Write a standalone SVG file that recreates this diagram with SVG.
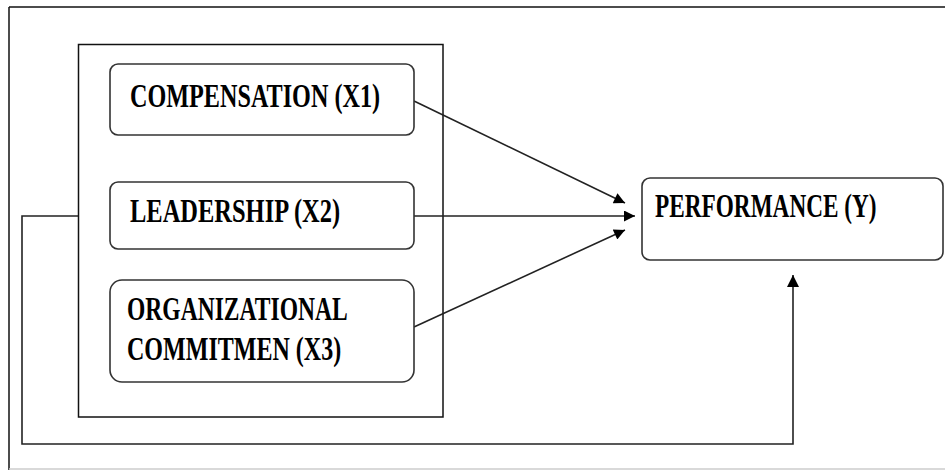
<svg xmlns="http://www.w3.org/2000/svg" width="945" height="470" viewBox="0 0 945 470">
<defs>
<marker id="ah" viewBox="0 0 10 10" refX="10" refY="5" markerWidth="13" markerHeight="11" markerUnits="userSpaceOnUse" orient="auto">
<path d="M0,0 L10,5 L0,10 Z" fill="#000"/>
</marker>
<marker id="ahv" viewBox="0 0 10 10" refX="10" refY="5" markerWidth="15" markerHeight="12" markerUnits="userSpaceOnUse" orient="auto">
<path d="M0,0 L10,5 L0,10 Z" fill="#000"/>
</marker>
</defs>
<style>
.frame{fill:none;stroke:#111;stroke-width:1.5}
.node{fill:#fff;stroke:#333;stroke-width:1.6}
.conn{fill:none;stroke:#222;stroke-width:1.6}
.lbl{font-family:"Liberation Serif","Times New Roman",serif;font-weight:bold;font-size:33px;fill:#000}
</style>
<rect width="945" height="470" fill="#fff"/>
<g id="frame">
<line x1="9" y1="7" x2="945" y2="7" class="frame"/>
<line x1="9" y1="7" x2="9" y2="470" class="frame"/>
<line x1="9" y1="469" x2="945" y2="469" stroke="#ccc" stroke-width="1.5"/>
</g>
<g id="group-box">
<rect x="78.5" y="44.5" width="364.5" height="372.5" class="frame"/>
</g>
<g id="connectors">
<line x1="414" y1="101" x2="625" y2="203" class="conn" marker-end="url(#ah)"/>
<line x1="414" y1="216" x2="635" y2="216" class="conn" marker-end="url(#ah)"/>
<line x1="414" y1="327" x2="625" y2="230" class="conn" marker-end="url(#ah)"/>
<polyline points="78,216 22,216 22,444 793,444 793,275" class="conn" marker-end="url(#ahv)"/>
</g>
<g id="compensation">
<rect x="110" y="64" width="304" height="71" rx="8" class="node"/>
<text class="lbl" transform="translate(130,107) scale(0.733,1)">COMPENSATION  (X1)</text>
</g>
<g id="leadership">
<rect x="110" y="182" width="304" height="67" rx="8" class="node"/>
<text class="lbl" transform="translate(130,222) scale(0.742,1)">LEADERSHIP (X2)</text>
</g>
<g id="commitment">
<rect x="110" y="280" width="304" height="102" rx="12" class="node"/>
<text class="lbl" transform="translate(127,320) scale(0.714,1)">ORGANIZATIONAL</text>
<text class="lbl" transform="translate(127,360) scale(0.728,1)">COMMITMEN  (X3)</text>
</g>
<g id="performance">
<rect x="642" y="178" width="301" height="82" rx="8" class="node"/>
<text class="lbl" transform="translate(655,217) scale(0.705,1)">PERFORMANCE  (Y)</text>
</g>
</svg>
